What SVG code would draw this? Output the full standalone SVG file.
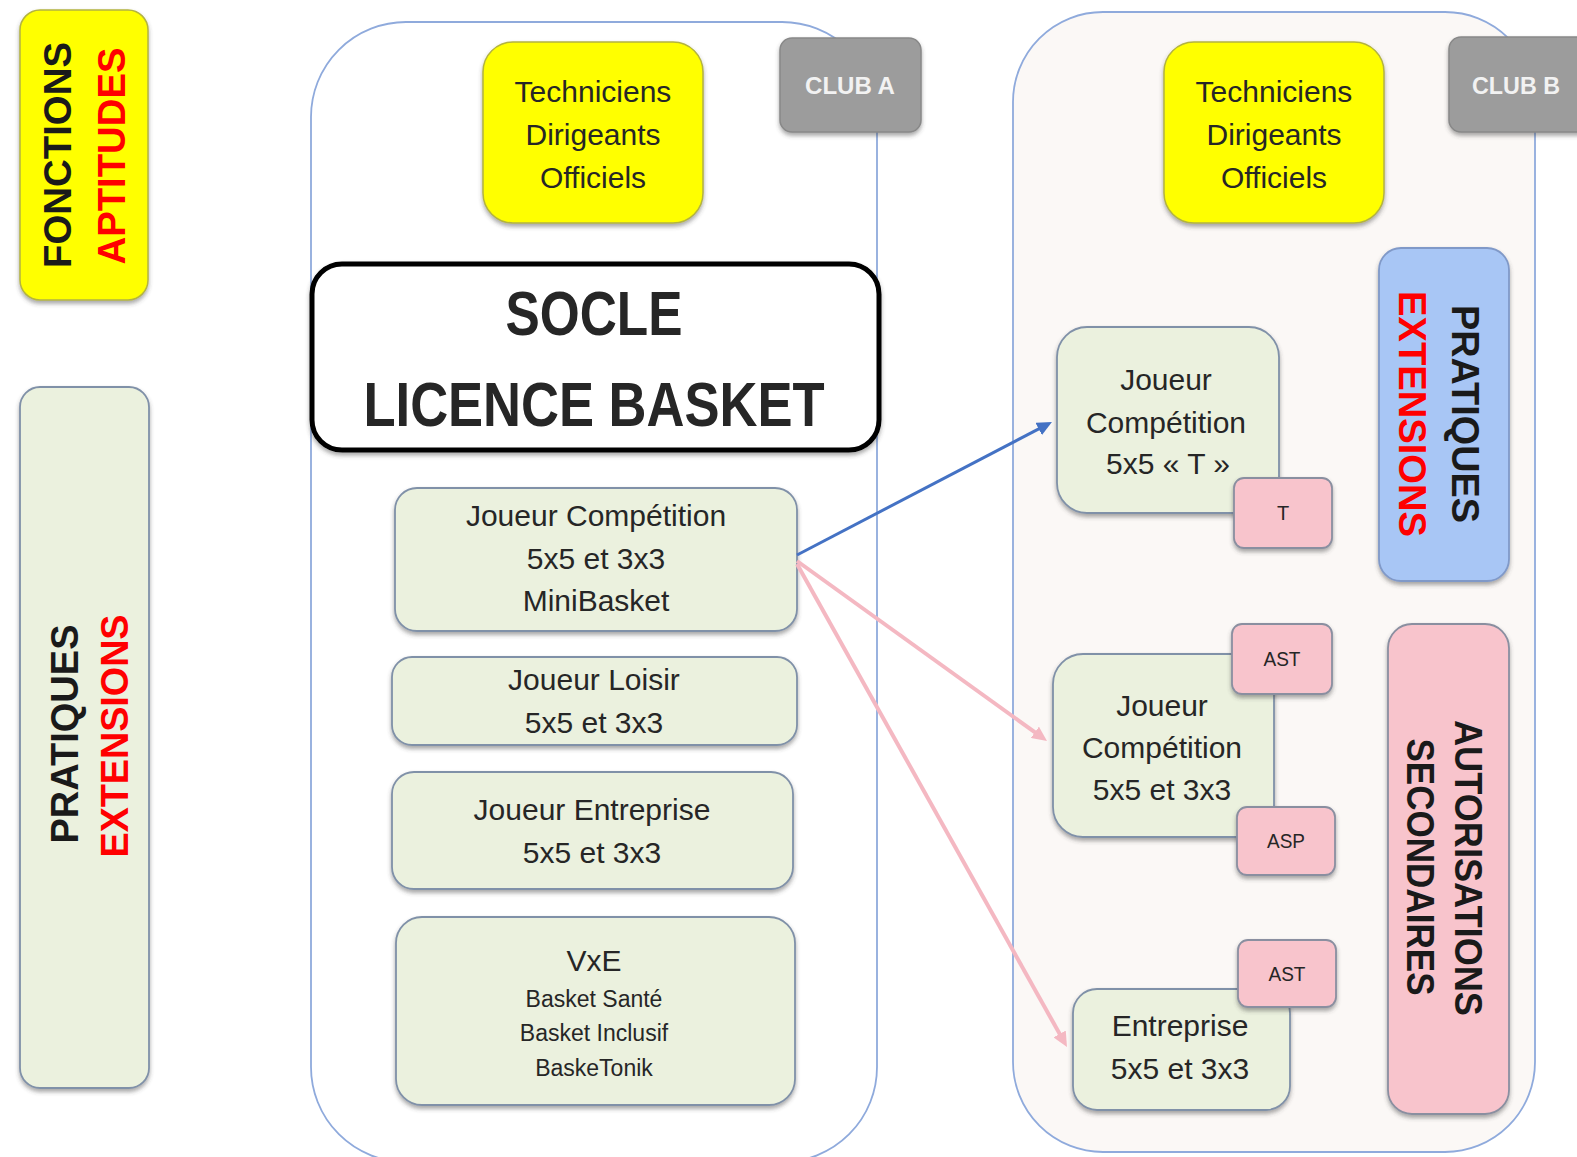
<svg xmlns="http://www.w3.org/2000/svg" width="1577" height="1157" viewBox="0 0 1577 1157">
  <defs>
    <filter id="sh" x="-10%" y="-10%" width="120%" height="130%">
      <feDropShadow dx="0" dy="3" stdDeviation="2" flood-color="#404040" flood-opacity="0.45"/>
    </filter>
    <marker id="ahBlue" markerUnits="userSpaceOnUse" markerWidth="16" markerHeight="14" refX="5" refY="7" orient="auto">
      <path d="M0,0 L15,7 L0,14 z" fill="#4472C4"/>
    </marker>
    <marker id="ahPink" markerUnits="userSpaceOnUse" markerWidth="16" markerHeight="14" refX="5" refY="7" orient="auto">
      <path d="M0,0 L15,7 L0,14 z" fill="#F4B8C2"/>
    </marker>
    <style>
      text { font-family: "Liberation Sans", Arial, sans-serif; fill: #262626; }
      .cap { font-weight: bold; font-size: 39px; }
      .red { fill: #FF0000; }
      .blk { fill: #1A1A1A; }
      .reg { font-size: 30px; text-anchor: middle; }
      .small { font-size: 23px; text-anchor: middle; }
      .tag { font-size: 20px; text-anchor: middle; }
      .yellow { fill: #FFFF00; stroke: #B3B340; stroke-width: 1.5; }
      .green { fill: #EBF1DE; stroke: #8091A8; stroke-width: 1.8; }
      .pink { fill: #F8C4CC; stroke: #8A8FA0; stroke-width: 1.8; }
      .blue { fill: #A8C6F5; stroke: #8099C8; stroke-width: 1.8; }
      .gray { fill: #9C9C9C; stroke: #888888; stroke-width: 1.5; }
      .club { stroke: #8FAADC; stroke-width: 1.8; }
      .clubtxt { font-weight: bold; font-size: 24px; fill: #F2F2F2; text-anchor: middle; }
    </style>
  </defs>

  <rect width="1577" height="1157" fill="#FFFFFF"/>

  <!-- Legend left -->
  <g id="legend-fonctions">
    <rect class="yellow" x="20" y="10" width="128" height="290" rx="20" filter="url(#sh)"/>
    <text class="cap blk" transform="translate(71,155) rotate(-90)" text-anchor="middle" textLength="226" lengthAdjust="spacingAndGlyphs">FONCTIONS</text>
    <text class="cap red" transform="translate(125,156) rotate(-90)" text-anchor="middle" textLength="217" lengthAdjust="spacingAndGlyphs">APTITUDES</text>
  </g>
  <g id="legend-pratiques">
    <rect class="green" x="20" y="387" width="129" height="701" rx="20" filter="url(#sh)"/>
    <text class="cap blk" transform="translate(78,734) rotate(-90)" text-anchor="middle" textLength="219" lengthAdjust="spacingAndGlyphs">PRATIQUES</text>
    <text class="cap red" transform="translate(128,736) rotate(-90)" text-anchor="middle" textLength="243" lengthAdjust="spacingAndGlyphs">EXTENSIONS</text>
  </g>

  <!-- Club A -->
  <g id="club-a">
    <rect class="club" x="311" y="22" width="566" height="1140" rx="95" fill="#FFFFFF"/>
  </g>
  <g id="club-a-label">
    <rect class="gray" x="780" y="38" width="141" height="94" rx="12" filter="url(#sh)"/>
    <text class="clubtxt" x="850" y="94" textLength="90" lengthAdjust="spacingAndGlyphs">CLUB A</text>
  </g>
  <g id="club-a-fonctions">
    <rect class="yellow" x="483" y="42" width="220" height="181" rx="30" filter="url(#sh)"/>
    <text class="reg" x="593" y="102">Techniciens</text>
    <text class="reg" x="593" y="145">Dirigeants</text>
    <text class="reg" x="593" y="188">Officiels</text>
  </g>
  <g id="socle">
    <rect x="312" y="264" width="567" height="186" rx="30" fill="#FFFFFF" stroke="#000000" stroke-width="5" filter="url(#sh)"/>
    <text x="594" y="335" font-weight="bold" font-size="63" text-anchor="middle" fill="#000000" textLength="177" lengthAdjust="spacingAndGlyphs">SOCLE</text>
    <text x="594" y="426" font-weight="bold" font-size="63" text-anchor="middle" fill="#000000" textLength="461" lengthAdjust="spacingAndGlyphs">LICENCE BASKET</text>
  </g>
  <g id="a-joueur-competition">
    <rect class="green" x="395" y="488" width="402" height="143" rx="22" filter="url(#sh)"/>
    <text class="reg" x="596" y="526">Joueur Compétition</text>
    <text class="reg" x="596" y="569">5x5 et 3x3</text>
    <text class="reg" x="596" y="611">MiniBasket</text>
  </g>
  <g id="a-joueur-loisir">
    <rect class="green" x="392" y="657" width="405" height="88" rx="20" filter="url(#sh)"/>
    <text class="reg" x="594" y="690">Joueur Loisir</text>
    <text class="reg" x="594" y="733">5x5 et 3x3</text>
  </g>
  <g id="a-joueur-entreprise">
    <rect class="green" x="392" y="772" width="401" height="117" rx="22" filter="url(#sh)"/>
    <text class="reg" x="592" y="820">Joueur Entreprise</text>
    <text class="reg" x="592" y="863">5x5 et 3x3</text>
  </g>
  <g id="a-vxe">
    <rect class="green" x="396" y="917" width="399" height="188" rx="26" filter="url(#sh)"/>
    <text class="reg" x="594" y="971">VxE</text>
    <text class="small" x="594" y="1007">Basket Santé</text>
    <text class="small" x="594" y="1041">Basket Inclusif</text>
    <text class="small" x="594" y="1076">BaskeTonik</text>
  </g>

  <!-- Club B -->
  <g id="club-b">
    <rect class="club" x="1013" y="12" width="522" height="1140" rx="90" fill="#FBF8F6"/>
  </g>
  <g id="club-b-label">
    <rect class="gray" x="1449" y="37" width="145" height="95" rx="12" filter="url(#sh)"/>
    <text class="clubtxt" x="1516" y="94" textLength="88" lengthAdjust="spacingAndGlyphs">CLUB B</text>
  </g>
  <g id="club-b-fonctions">
    <rect class="yellow" x="1164" y="42" width="220" height="181" rx="30" filter="url(#sh)"/>
    <text class="reg" x="1274" y="102">Techniciens</text>
    <text class="reg" x="1274" y="145">Dirigeants</text>
    <text class="reg" x="1274" y="188">Officiels</text>
  </g>
  <g id="b-pratiques-extensions">
    <rect class="blue" x="1379" y="248" width="130" height="333" rx="22" filter="url(#sh)"/>
    <text class="cap blk" transform="translate(1452,414) rotate(90)" text-anchor="middle" textLength="218" lengthAdjust="spacingAndGlyphs">PRATIQUES</text>
    <text class="cap red" transform="translate(1399,414) rotate(90)" text-anchor="middle" textLength="246" lengthAdjust="spacingAndGlyphs">EXTENSIONS</text>
  </g>
  <g id="b-autorisations">
    <rect class="pink" x="1388" y="624" width="121" height="490" rx="24" filter="url(#sh)"/>
    <text class="cap blk" transform="translate(1455,868) rotate(90)" text-anchor="middle" textLength="296" lengthAdjust="spacingAndGlyphs">AUTORISATIONS</text>
    <text class="cap blk" transform="translate(1407,867) rotate(90)" text-anchor="middle" textLength="257" lengthAdjust="spacingAndGlyphs">SECONDAIRES</text>
  </g>
  <g id="b-joueur-t">
    <rect class="green" x="1057" y="327" width="222" height="186" rx="30" filter="url(#sh)"/>
    <text class="reg" x="1166" y="390">Joueur</text>
    <text class="reg" x="1166" y="433">Compétition</text>
    <text class="reg" x="1168" y="474">5x5 « T »</text>
  </g>
  <g id="b-tag-t">
    <rect class="pink" x="1234" y="478" width="98" height="70" rx="10" filter="url(#sh)"/>
    <text class="tag" x="1283" y="520">T</text>
  </g>
  <g id="b-joueur-competition">
    <rect class="green" x="1053" y="654" width="221" height="183" rx="30" filter="url(#sh)"/>
    <text class="reg" x="1162" y="716">Joueur</text>
    <text class="reg" x="1162" y="758">Compétition</text>
    <text class="reg" x="1162" y="800">5x5 et 3x3</text>
  </g>
  <g id="b-tag-ast1">
    <rect class="pink" x="1232" y="624" width="100" height="70" rx="10" filter="url(#sh)"/>
    <text class="tag" x="1282" y="666" textLength="37" lengthAdjust="spacingAndGlyphs">AST</text>
  </g>
  <g id="b-tag-asp">
    <rect class="pink" x="1237" y="807" width="98" height="68" rx="10" filter="url(#sh)"/>
    <text class="tag" x="1286" y="848" textLength="38" lengthAdjust="spacingAndGlyphs">ASP</text>
  </g>
  <g id="b-entreprise">
    <rect class="green" x="1073" y="989" width="217" height="121" rx="24" filter="url(#sh)"/>
    <text class="reg" x="1180" y="1036">Entreprise</text>
    <text class="reg" x="1180" y="1079">5x5 et 3x3</text>
  </g>
  <g id="b-tag-ast2">
    <rect class="pink" x="1238" y="940" width="98" height="67" rx="10" filter="url(#sh)"/>
    <text class="tag" x="1287" y="981" textLength="37" lengthAdjust="spacingAndGlyphs">AST</text>
  </g>

  <!-- Connectors -->
  <g id="connectors" fill="none" stroke-linecap="butt">
    <line x1="797" y1="555" x2="1043.1" y2="426.6" stroke="#4472C4" stroke-width="3" marker-end="url(#ahBlue)"/>
    <line x1="797" y1="561" x2="1038.9" y2="735.2" stroke="#F4B8C2" stroke-width="4" marker-end="url(#ahPink)"/>
    <line x1="797" y1="564" x2="1062.1" y2="1038.3" stroke="#F4B8C2" stroke-width="4" marker-end="url(#ahPink)"/>
  </g>
</svg>
